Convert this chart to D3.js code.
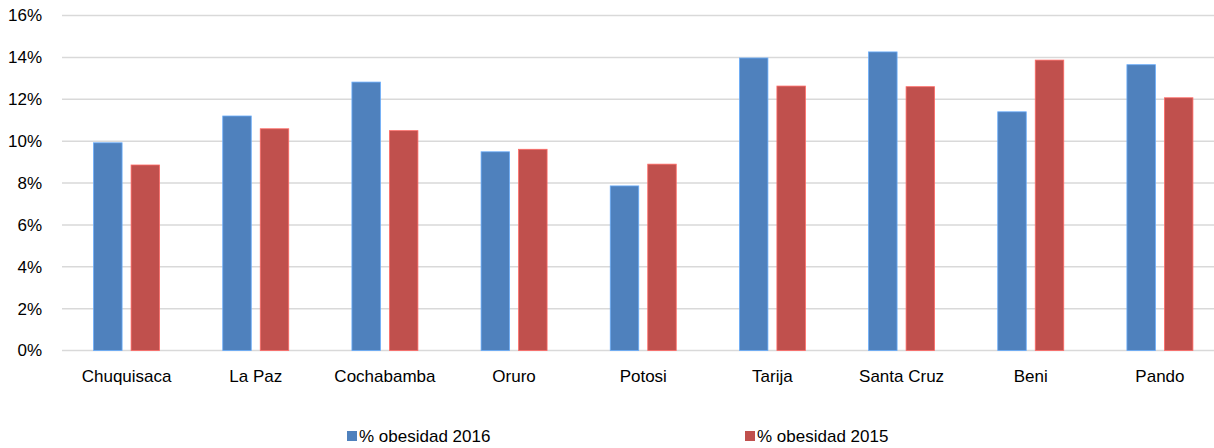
<!DOCTYPE html>
<html>
<head>
<meta charset="utf-8">
<title>% obesidad por departamento</title>
<script src="https://d3js.org/d3.v7.min.js"></script>
<style>
    body { margin: 0; background: #fff; overflow: hidden; }
    text { font-family: "Liberation Sans", Arial, sans-serif; fill: #000; }
</style>
</head>
<body>
<div id="chart"></div>
<script>
// data
var departamentos = ["Chuquisaca", "La Paz", "Cochabamba", "Oruro", "Potosi", "Tarija", "Santa Cruz", "Beni", "Pando"];
var obesidad2016 = [9.92, 11.2, 12.82, 9.49, 7.86, 13.97, 14.26, 11.4, 13.65];
var obesidad2015 = [8.86, 10.59, 10.5, 9.61, 8.9, 12.63, 12.6, 13.87, 12.07];
var seriesNames = ["% obesidad 2016", "% obesidad 2015"];
var yTicks = [0, 2, 4, 6, 8, 10, 12, 14, 16];
var colors = ["#4F81BD", "#C0504D"];

var W = 1214, H = 448;
// the plot area runs a little past the right edge of the picture (cropped)
var margin = { top: 15.5, right: -10.5, bottom: 97.5, left: 62 };
var width = W - margin.left - margin.right,
    height = H - margin.top - margin.bottom;

var svg = d3.select("#chart").append("svg")
    .attr("width", W)
    .attr("height", H);

var g = svg.append("g")
    .attr("transform", "translate(" + margin.left + "," + margin.top + ")");

var x = d3.scaleBand().domain(departamentos).range([0, width]).padding(0);
var groupW = 66;
var x1 = d3.scaleBand().domain([0, 1])
    .range([(x.bandwidth() - groupW) / 2, (x.bandwidth() + groupW) / 2])
    .paddingInner(0.24);
var y = d3.scaleLinear().domain([0, 16]).range([height, 0]);

// gridlines
g.append("g")
    .selectAll("line")
    .data(yTicks)
    .enter().append("line")
    .attr("x1", 0).attr("x2", width)
    .attr("y1", function (d) { return y(d); })
    .attr("y2", function (d) { return y(d); })
    .attr("stroke", "#D9D9D9")
    .attr("stroke-width", 1.5);

// y axis labels
var yAxis = g.append("g")
    .call(d3.axisLeft(y).tickValues(yTicks).tickSize(0).tickPadding(20)
        .tickFormat(function (d) { return d + "%"; }));
yAxis.select(".domain").remove();
yAxis.selectAll("text").style("font-size", "17px").attr("fill", "#000");

// x axis labels
var xAxis = g.append("g")
    .attr("transform", "translate(0," + height + ")")
    .call(d3.axisBottom(x).tickSize(0).tickPadding(19));
xAxis.select(".domain").remove();
xAxis.selectAll("text").style("font-size", "17px").attr("fill", "#000");

// bars
var rows = departamentos.map(function (d, i) {
    return { name: d, values: [obesidad2016[i], obesidad2015[i]] };
});

var groups = g.selectAll(".dep")
    .data(rows)
    .enter().append("g")
    .attr("class", "dep")
    .attr("transform", function (d) { return "translate(" + x(d.name) + ",0)"; });

groups.selectAll("rect")
    .data(function (d) { return d.values; })
    .enter().append("rect")
    .attr("x", function (d, i) { return x1(i); })
    .attr("width", x1.bandwidth())
    .attr("y", function (d) { return y(d); })
    .attr("height", function (d) { return height - y(d); })
    .attr("fill", function (d, i) { return colors[i]; })
    .attr("stroke", function (d, i) { return d3.color(colors[i]).brighter(0.8); })
    .attr("stroke-width", 0.8);

// legend
var legendX = [347, 745];
var legend = svg.selectAll(".legend")
    .data(seriesNames)
    .enter().append("g")
    .attr("class", "legend")
    .attr("transform", function (d, i) { return "translate(" + legendX[i] + ",436)"; });

legend.append("rect")
    .attr("x", 0).attr("y", -5)
    .attr("width", 10).attr("height", 10)
    .attr("fill", function (d, i) { return colors[i]; });

legend.append("text")
    .attr("x", 12)
    .attr("dy", "0.35em")
    .style("font-size", "17px")
    .text(function (d) { return d; });
</script>
</body>
</html>
